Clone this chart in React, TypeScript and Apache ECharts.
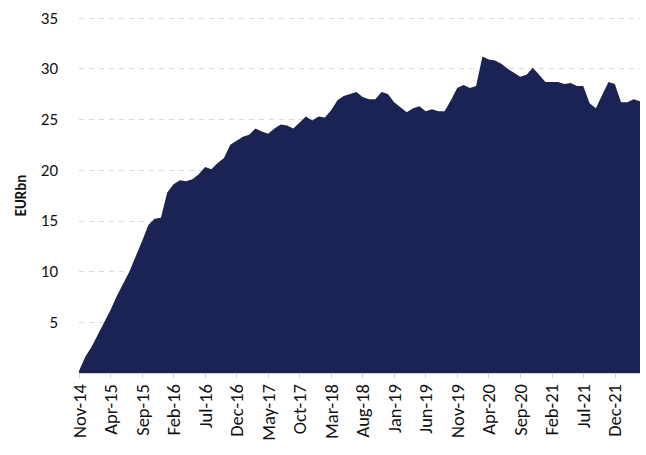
import React, { useEffect, useRef } from "react";
import * as echarts from "echarts";

const months = ["Jan", "Feb", "Mar", "Apr", "May", "Jun", "Jul", "Aug", "Sep", "Oct", "Nov", "Dec"];

// Monthly categories Nov-14 .. Apr-22
const categories: string[] = [];
for (let k = 0; k < 90; k++) {
  const m = (10 + k) % 12;
  const y = 14 + Math.floor((10 + k) / 12);
  categories.push(`${months[m]}-${y}`);
}

const values: number[] = [
  0.2, 1.6, 2.6, 3.8, 5.0, 6.2, 7.6, 8.8, 10.0, 11.5,
  13.0, 14.6, 15.2, 15.3, 17.8, 18.6, 19.0, 18.9, 19.1, 19.6,
  20.3, 20.1, 20.7, 21.2, 22.5, 22.9, 23.3, 23.5, 24.1, 23.8,
  23.6, 24.1, 24.5, 24.4, 24.1, 24.7, 25.3, 24.9, 25.3, 25.2,
  25.9, 26.9, 27.3, 27.5, 27.7, 27.2, 27.0, 27.0, 27.7, 27.5,
  26.7, 26.2, 25.7, 26.1, 26.3, 25.8, 26.0, 25.8, 25.8, 26.9,
  28.1, 28.4, 28.1, 28.3, 31.2, 30.9, 30.8, 30.5, 30.0, 29.6,
  29.2, 29.4, 30.1, 29.4, 28.7, 28.7, 28.7, 28.5, 28.6, 28.3,
  28.3, 26.6, 26.1, 27.4, 28.7, 28.5, 26.7, 26.7, 27.0, 26.8,
];

const yTicks = { min: 0, max: 35, interval: 5 };

const FONT = "Carlito, Lato, sans-serif";

export default function App() {
  const ref = useRef<HTMLDivElement>(null);
  useEffect(() => {
    if (!ref.current) return;
    const chart = echarts.init(ref.current, null, { renderer: "svg" });
    chart.setOption({
      animation: false,
      textStyle: { fontFamily: FONT },
      grid: { left: 79, right: 6, top: 18, bottom: 82 },
      xAxis: {
        type: "category",
        data: categories,
        boundaryGap: false,
        axisLine: { lineStyle: { color: "#d0d0d0", width: 1 } },
        axisTick: { show: true, interval: 4, length: 5, lineStyle: { color: "#d0d0d0" } },
        axisLabel: {
          interval: 4,
          rotate: 90,
          margin: 11,
          color: "#111111",
          fontSize: 18.5,
          fontFamily: FONT,
        },
      },
      yAxis: {
        type: "value",
        min: yTicks.min,
        max: yTicks.max,
        interval: yTicks.interval,
        name: "EURbn",
        nameLocation: "middle",
        nameGap: 51,
        nameTextStyle: {
          fontWeight: "bold",
          fontSize: 15,
          color: "#111111",
          fontFamily: FONT,
        },
        axisLine: { show: false },
        axisTick: { show: false },
        splitLine: { lineStyle: { color: "#d9d9d9", type: [5, 5], width: 1 } },
        axisLabel: {
          margin: 21,
          color: "#111111",
          fontSize: 17,
          fontFamily: FONT,
          formatter: (v: number) => (v === 0 ? "" : String(v)),
        },
      },
      series: [
        {
          type: "line",
          data: values,
          symbol: "none",
          lineStyle: { width: 0 },
          areaStyle: { color: "#1b2254", opacity: 1 },
          itemStyle: { color: "#1b2254" },
        },
      ],
    });
    return () => chart.dispose();
  }, []);
  return <div ref={ref} style={{ width: 646, height: 455, position: "absolute", left: 0, top: 0 }} />;
}
